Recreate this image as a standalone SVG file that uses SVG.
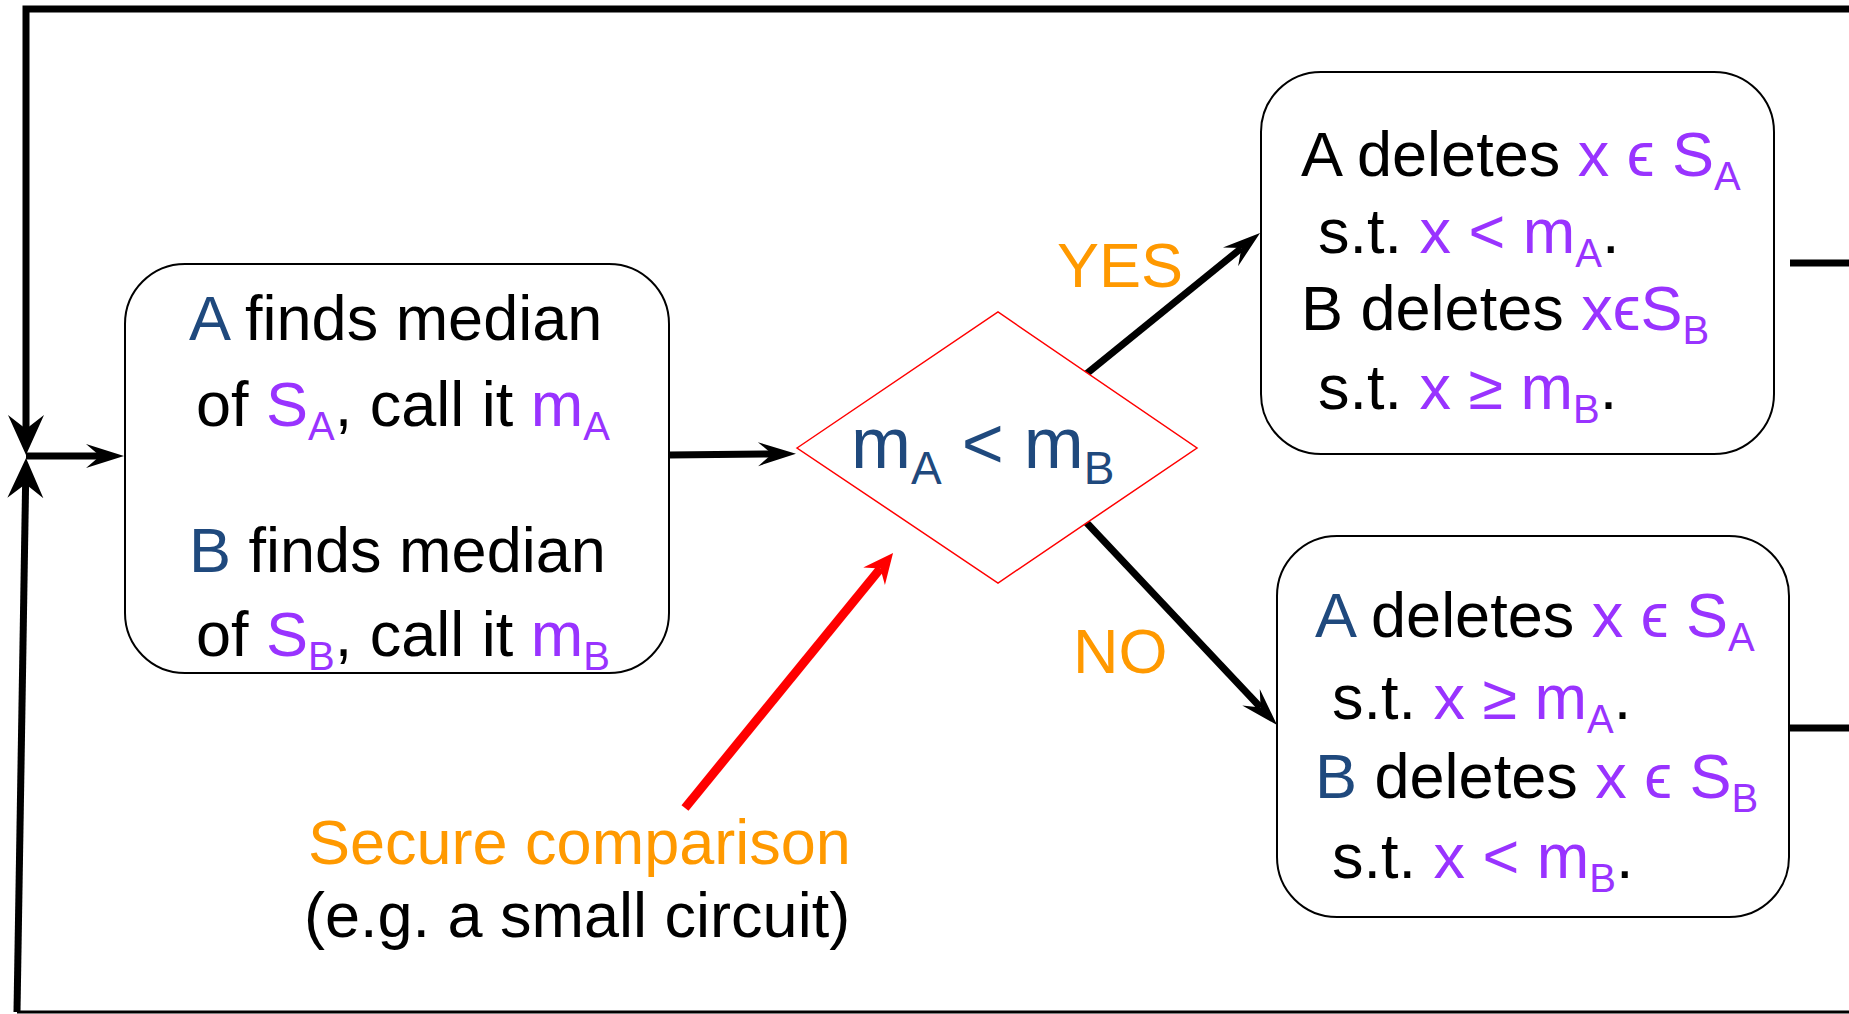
<svg xmlns="http://www.w3.org/2000/svg" width="1849" height="1014" viewBox="0 0 1849 1014">
<style>
.t{font-family:"Liberation Sans",Arial,sans-serif;font-size:63px;fill:#000}
.dk{fill:#1F497D}
.pu{fill:#9933FF}
.or{fill:#FF9900}
.sub{font-size:40px}
.box{fill:#fff;stroke:#000;stroke-width:2}
.ln{fill:none;stroke:#000;stroke-width:7}
</style>
<defs>
<marker id="ah" markerUnits="userSpaceOnUse" viewBox="-20 -20 50 40" refX="0" refY="0" markerWidth="50" markerHeight="40" orient="auto" overflow="visible">
<path d="M24,0 L-14,-12 L0,0 L-14,12 Z" fill="#000"/>
</marker>
<marker id="av" markerUnits="userSpaceOnUse" viewBox="-20 -20 50 40" refX="0" refY="0" markerWidth="50" markerHeight="40" orient="auto" overflow="visible">
<path d="M26,0 L-14,-18 L0,0 L-14,18 Z" fill="#000"/>
</marker>
<marker id="rh" markerUnits="userSpaceOnUse" viewBox="-20 -20 50 40" refX="0" refY="0" markerWidth="50" markerHeight="40" orient="auto" overflow="visible">
<path d="M20,0 L-10,-14 L0,0 L-10,14 Z" fill="#FF0000"/>
</marker>
</defs>
<rect width="1849" height="1014" fill="#fff"/>
<g id="connectors">
<polyline class="ln" points="1849,9 26,9 26,429" marker-end="url(#av)"/>
<polyline points="1849,1012 17,1012" fill="none" stroke="#000" stroke-width="3"/>
<line class="ln" x1="17" y1="1012" x2="25.6" y2="484" marker-end="url(#av)"/>
<line class="ln" x1="26" y1="456" x2="100" y2="456" marker-end="url(#ah)"/>
<line class="ln" x1="669" y1="455" x2="772" y2="454" marker-end="url(#ah)"/>
<line class="ln" x1="1085" y1="375" x2="1241.4" y2="248.1" marker-end="url(#ah)"/>
<line class="ln" x1="1085" y1="521" x2="1260.6" y2="707.5" marker-end="url(#ah)"/>
<line class="ln" x1="1790" y1="263" x2="1849" y2="263"/>
<line class="ln" x1="1789" y1="728" x2="1849" y2="728"/>
<line x1="685" y1="808" x2="880.4" y2="568.5" stroke="#FF0000" stroke-width="9" marker-end="url(#rh)"/>
</g>
<g id="n1">
<rect class="box" x="125" y="264" width="544" height="409" rx="60"/>
<text class="t" x="189" y="340"><tspan class="dk">A</tspan> finds median</text>
<text class="t" x="196" y="426">of <tspan class="pu">S</tspan><tspan class="pu sub" dy="14">A</tspan><tspan dy="-14">, call it </tspan><tspan class="pu">m</tspan><tspan class="pu sub" dy="14">A</tspan></text>
<text class="t" x="189" y="572"><tspan class="dk">B</tspan> finds median</text>
<text class="t" x="196" y="656">of <tspan class="pu">S</tspan><tspan class="pu sub" dy="14">B</tspan><tspan dy="-14">, call it </tspan><tspan class="pu">m</tspan><tspan class="pu sub" dy="14">B</tspan></text>
</g>
<g id="decision">
<polygon points="797,448 998,312 1197,448 998,583" fill="#fff" stroke="#FF0000" stroke-width="1.5"/>
<text class="t dk" x="851" y="468" style="font-size:72px">m<tspan style="font-size:46px" dy="16">A</tspan><tspan dy="-16"> &lt; m</tspan><tspan style="font-size:46px" dy="16">B</tspan></text>
</g>
<g id="yes-label"><text class="t or" x="1057" y="287">YES</text></g>
<g id="no-label"><text class="t or" x="1073" y="673">NO</text></g>
<g id="n-yes">
<rect class="box" x="1261" y="72" width="513" height="382" rx="60"/>
<text class="t" x="1301" y="176">A deletes <tspan class="pu">x ϵ S</tspan><tspan class="pu sub" dy="14">A</tspan></text>
<text class="t" x="1318" y="253">s.t. <tspan class="pu">x &lt; m</tspan><tspan class="pu sub" dy="14">A</tspan><tspan dy="-14">.</tspan></text>
<text class="t" x="1301" y="330">B deletes <tspan class="pu">xϵS</tspan><tspan class="pu sub" dy="14">B</tspan></text>
<text class="t" x="1318" y="409">s.t. <tspan class="pu">x ≥ m</tspan><tspan class="pu sub" dy="14">B</tspan><tspan dy="-14">.</tspan></text>
</g>
<g id="n-no">
<rect class="box" x="1277" y="536" width="512" height="381" rx="60"/>
<text class="t" x="1315" y="637"><tspan class="dk">A</tspan> deletes <tspan class="pu">x ϵ S</tspan><tspan class="pu sub" dy="14">A</tspan></text>
<text class="t" x="1332" y="719">s.t. <tspan class="pu">x ≥ m</tspan><tspan class="pu sub" dy="14">A</tspan><tspan dy="-14">.</tspan></text>
<text class="t" x="1315" y="798"><tspan class="dk">B</tspan> deletes <tspan class="pu">x ϵ S</tspan><tspan class="pu sub" dy="14">B</tspan></text>
<text class="t" x="1332" y="878">s.t. <tspan class="pu">x &lt; m</tspan><tspan class="pu sub" dy="14">B</tspan><tspan dy="-14">.</tspan></text>
</g>
<g id="note">
<text class="t or" x="308" y="864">Secure comparison</text>
<text class="t" x="304" y="937">(e.g. a small circuit)</text>
</g>
</svg>
